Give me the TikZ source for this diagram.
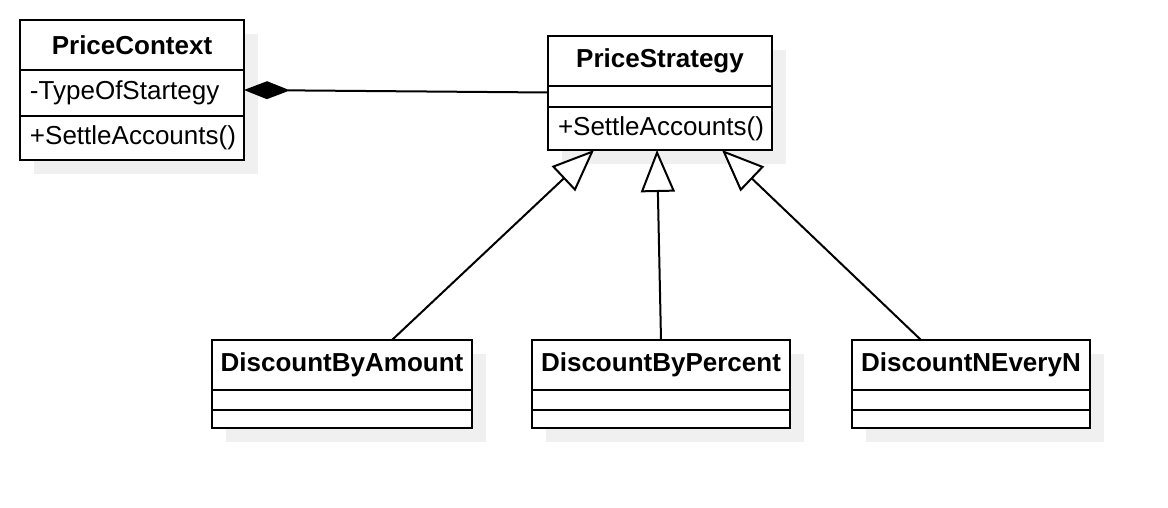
\documentclass[tikz,border=0pt]{standalone}
\usepackage{fontspec}
\setmainfont{Liberation Sans}
\usetikzlibrary{arrows.meta,backgrounds}
\definecolor{shadowgray}{RGB}{240,240,240}
\tikzset{
  base/.style={draw, fill=white, line width=2pt, inner sep=0pt, outer sep=0pt, anchor=north west, font=\fontsize{26}{30}\selectfont},
  titlerow/.style={base, minimum width=#1, minimum height=50pt, font=\fontsize{26}{30}\selectfont\bfseries},
  textrow/.style 2 args={base, text width=#1, inner xsep=10pt, align=left, minimum height=#2},
  emptyrow/.style 2 args={base, minimum width=#1, minimum height=#2},
  conn/.style={line width=2pt},
  compos/.style={conn, {Diamond[length=46pt,width=18pt,line width=0pt]}-},
  inherit/.style={conn, -{Triangle[open,length=42pt,width=34pt,fill=white]}},
  shadowfill/.style={fill=shadowgray}
}
\begin{document}
\begin{tikzpicture}[x=1pt,y=-1pt]
\useasboundingbox (0,0) rectangle (1168,508);
% PriceContext
\node[titlerow=224pt] (pcT) at (20,20) {PriceContext};
\node[textrow={204pt}{46pt}] (pcA) at (pcT.south west) {-TypeOfStartegy};
\node[textrow={204pt}{44pt}] (pcM) at (pcA.south west) {+SettleAccounts()};
% PriceStrategy
\node[titlerow=224pt] (psT) at (548,36) {PriceStrategy};
\node[emptyrow={224pt}{21pt}] (psE) at (psT.south west) {};
\node[textrow={204pt}{43pt}] (psM) at (psE.south west) {+SettleAccounts()};
% DiscountByAmount
\node[titlerow=260pt] (daT) at (212,340) {DiscountByAmount};
\node[emptyrow={260pt}{20pt}] (daE1) at (daT.south west) {};
\node[emptyrow={260pt}{18pt}] (daE2) at (daE1.south west) {};
% DiscountByPercent
\node[titlerow=258pt] (dpT) at (532,340) {DiscountByPercent};
\node[emptyrow={258pt}{20pt}] (dpE1) at (dpT.south west) {};
\node[emptyrow={258pt}{18pt}] (dpE2) at (dpE1.south west) {};
% DiscountNEveryN
\node[titlerow=238pt] (dnT) at (852,340) {DiscountNEveryN};
\node[emptyrow={238pt}{20pt}] (dnE1) at (dnT.south west) {};
\node[emptyrow={238pt}{18pt}] (dnE2) at (dnE1.south west) {};
% shadows
\begin{scope}[on background layer]
\fill[white] (0,0) rectangle (1168,508);
\fill[shadowfill] ([shift={(14,14)}]pcT.north west) rectangle ([shift={(14,14)}]pcM.south east);
\fill[shadowfill] ([shift={(14,14)}]psT.north west) rectangle ([shift={(14,14)}]psM.south east);
\fill[shadowfill] ([shift={(14,14)}]daT.north west) rectangle ([shift={(14,14)}]daE2.south east);
\fill[shadowfill] ([shift={(14,14)}]dpT.north west) rectangle ([shift={(14,14)}]dpE2.south east);
\fill[shadowfill] ([shift={(14,14)}]dnT.north west) rectangle ([shift={(14,14)}]dnE2.south east);
\end{scope}
% connectors
\draw[compos] ([yshift=3pt]pcA.east) -- ([yshift=4pt]psE.west);
\draw[inherit] ([xshift=50pt]daT.north) -- ([xshift=-66pt]psM.south);
\draw[inherit] (dpT.north) -- ([xshift=-3pt]psM.south);
\draw[inherit] ([xshift=-50pt]dnT.north) -- ([xshift=62pt]psM.south);
\end{tikzpicture}
\end{document}
